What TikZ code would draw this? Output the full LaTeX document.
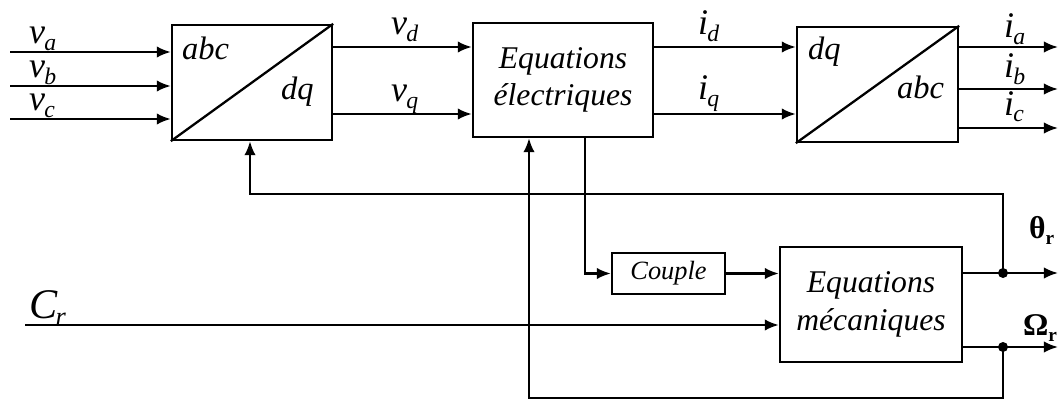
\documentclass[tikz,border=0pt]{standalone}
\usepackage{fontspec}
\setmainfont{Liberation Serif}
\usetikzlibrary{arrows.meta,fit,calc}
\newcommand\siglab[2]{{\fontsize{20.5}{20.5}\selectfont\itshape #1}\kern-0.5pt\raisebox{-3.5pt}{\fontsize{13.5}{13.5}\selectfont\itshape #2}}
\newcommand\biglab[2]{{\fontsize{24}{24}\selectfont\itshape #1}\kern-1pt\raisebox{-4.5pt}{\fontsize{15}{15}\selectfont\itshape #2}}
\newcommand\boldlab[2]{{\fontsize{18}{18}\selectfont\bfseries #1}\raisebox{-3.5pt}{\fontsize{11}{11}\selectfont\bfseries #2}}
\begin{document}
\begin{tikzpicture}[x=0.02cm,y=-0.02cm,
  line width=1.3pt,
  arr/.style={-{Latex[length=8pt,width=6.5pt]}},
  blk/.style={draw,inner sep=0pt},
  lab/.style={anchor=base west,inner sep=0pt},
  btxt/.style={inner sep=0pt,font=\fontsize{18.5}{20}\selectfont\itshape},
  jdot/.style={circle,fill,inner sep=0pt,minimum size=0.2cm}]
\useasboundingbox (0,0) rectangle (1061,402);
% blocks
\node[blk,fit={(172,25) (332,140)}] (b1) {};
\node[blk,fit={(473,23) (653,137)}] (b2) {};
\node[blk,fit={(797,27) (958,142)}] (b3) {};
\node[blk,fit={(612,253) (725,294)}] (cp) {};
\node[blk,fit={(780,247) (962,362)}] (bm) {};
\draw (b1.south west) -- (b1.north east);
\draw (b3.south west) -- (b3.north east);
% block texts
\node[btxt,anchor=base west] (t1a) at (181,60) {abc};
\node[btxt,anchor=base west] (t1b) at (280,100) {dq};
\node[btxt,anchor=base west] (t3a) at (807,60) {dq};
\node[btxt,anchor=base west] (t3b) at (896,98) {abc};
\node[btxt,align=center,font=\fontsize{18}{21}\selectfont\itshape] (t2) at (b2.center) {Equations\\électriques};
\node[btxt,align=center,font=\fontsize{18}{22}\selectfont\itshape] (tm) at (bm.center) {Equations\\mécaniques};
\node[btxt,font=\fontsize{15}{16}\selectfont\itshape] (tc) at (cp.center) {Couple};
% inputs
\coordinate (ia0) at (10,52);
\coordinate (ib0) at (10,86);
\coordinate (ic0) at (10,119);
\draw[arr] (ia0) -- (ia0 -| b1.west);
\draw[arr] (ib0) -- (ib0 -| b1.west);
\draw[arr] (ic0) -- (ic0 -| b1.west);
\node[lab] (lva) at (28,44) {\siglab{v}{a}};
\node[lab] (lvb) at (28,78) {\siglab{v}{b}};
\node[lab] (lvc) at (28,111) {\siglab{v}{c}};
% b1 -> b2
\coordinate (yd) at (0,47);
\coordinate (yq) at (0,114);
\draw[arr] (yd -| b1.east) -- (yd -| b2.west);
\draw[arr] (yq -| b1.east) -- (yq -| b2.west);
\node[lab] (lvd) at (390,35) {\siglab{v}{d}};
\node[lab] (lvq) at (390,102) {\siglab{v}{q}};
% b2 -> b3
\draw[arr] (yd -| b2.east) -- (yd -| b3.west);
\draw[arr] (yq -| b2.east) -- (yq -| b3.west);
\node[lab] (lid) at (697,35) {\siglab{i}{d}};
\node[lab] (liq) at (697,100) {\siglab{i}{q}};
% outputs
\coordinate (oa) at (1058,47);
\coordinate (ob) at (1058,89);
\coordinate (oc) at (1058,128);
\draw[arr] (oa -| b3.east) -- (oa);
\draw[arr] (ob -| b3.east) -- (ob);
\draw[arr] (oc -| b3.east) -- (oc);
\node[lab] (lia) at (1003,38) {\siglab{i}{a}};
\node[lab] (lib) at (1003,78) {\siglab{i}{b}};
\node[lab] (lic) at (1003,115) {\siglab{i}{c}};
% mechanical part
\coordinate (cpx) at (585,0);
\draw[arr] (b2.south -| cpx) |- (cp.west);
\draw[arr] (cp.east) -- (cp.east -| bm.west);
\coordinate (crin) at (25,325);
\draw[arr] (crin) -- (crin -| bm.west);
\node[lab] (lcr) at (28,318) {\biglab{C}{r}};
\coordinate (thj) at (1003,273);
\coordinate (omj) at (1003,347);
\coordinate (tho) at (1058,273);
\coordinate (omo) at (1058,347);
\draw[arr] (thj -| bm.east) -- (tho);
\draw[arr] (omj -| bm.east) -- (omo);
\node[jdot] (d1) at (thj) {};
\node[jdot] (d2) at (omj) {};
\node[lab] (lth) at (1028,238) {\boldlab{θ}{r}};
\node[lab] (lom) at (1022,335) {\boldlab{Ω}{r}};
% feedbacks
\coordinate (fb1) at (250,194);
\draw[arr] (thj) |- (fb1) -- (fb1 |- b1.south);
\coordinate (fb2) at (529,398);
\draw[arr] (omj) |- (fb2) -- (fb2 |- b2.south);
\end{tikzpicture}
\end{document}
